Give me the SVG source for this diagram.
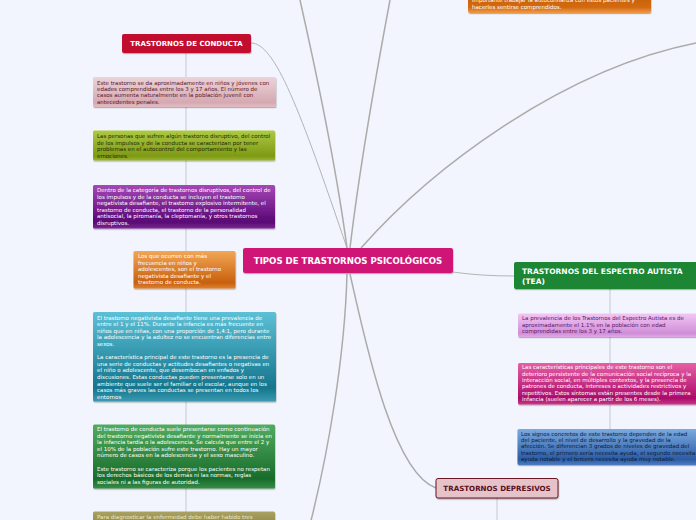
<svg xmlns="http://www.w3.org/2000/svg" width="696" height="520" viewBox="0 0 696 520">
<defs>
<style>
.bg{fill:#F2F5FD}
.con{fill:none;stroke:#ABABAB;stroke-width:1.5}
.con2{fill:none;stroke:#B4B4B4;stroke-width:1}
.stem{fill:none;stroke:#D6DAE3;stroke-width:1.6}
.t{font-family:"DejaVu Sans",Verdana,sans-serif;font-size:5.5px}
.w{fill:#FFFFFF}
.h{font-family:"DejaVu Sans",Verdana,sans-serif;font-weight:bold}
</style>
<filter id="sh" x="-5%" y="-10%" width="110%" height="130%">
<feDropShadow dx="0.5" dy="1.2" stdDeviation="0.7" flood-color="#000" flood-opacity="0.28"/>
</filter>
<linearGradient id="gPink" x1="0" y1="0" x2="0" y2="1"><stop offset="0" stop-color="#ECD3D8"/><stop offset="0.85" stop-color="#D5A9B1"/><stop offset="1" stop-color="#E2BDC3"/></linearGradient>
<linearGradient id="gOlive" x1="0" y1="0" x2="0" y2="1"><stop offset="0" stop-color="#AECA42"/><stop offset="0.85" stop-color="#7E9A16"/><stop offset="1" stop-color="#98B430"/></linearGradient>
<linearGradient id="gPurple" x1="0" y1="0" x2="0" y2="1"><stop offset="0" stop-color="#A548B6"/><stop offset="0.85" stop-color="#5A0676"/><stop offset="1" stop-color="#7A2A90"/></linearGradient>
<linearGradient id="gOrange" x1="0" y1="0" x2="0" y2="1"><stop offset="0" stop-color="#F2A656"/><stop offset="0.85" stop-color="#C8600E"/><stop offset="1" stop-color="#E08232"/></linearGradient>
<linearGradient id="gTeal" x1="0" y1="0" x2="0" y2="1"><stop offset="0" stop-color="#5CC0D6"/><stop offset="0.85" stop-color="#13768E"/><stop offset="1" stop-color="#3A9AB0"/></linearGradient>
<linearGradient id="gGreen" x1="0" y1="0" x2="0" y2="1"><stop offset="0" stop-color="#52AC60"/><stop offset="0.85" stop-color="#186C2A"/><stop offset="1" stop-color="#3A8C48"/></linearGradient>
<linearGradient id="gKhaki" x1="0" y1="0" x2="0" y2="1"><stop offset="0" stop-color="#AAA262"/><stop offset="1" stop-color="#8E8644"/></linearGradient>
<linearGradient id="gTopOr" x1="0" y1="0" x2="0" y2="1"><stop offset="0" stop-color="#C85E08"/><stop offset="0.7" stop-color="#D26A12"/><stop offset="1" stop-color="#F09A48"/></linearGradient>
<linearGradient id="gViolet" x1="0" y1="0" x2="0" y2="1"><stop offset="0" stop-color="#F2C6F4"/><stop offset="0.85" stop-color="#D08ED8"/><stop offset="1" stop-color="#E0AAE6"/></linearGradient>
<linearGradient id="gMag" x1="0" y1="0" x2="0" y2="1"><stop offset="0" stop-color="#E660A6"/><stop offset="0.85" stop-color="#AC0C6A"/><stop offset="1" stop-color="#C83A88"/></linearGradient>
<linearGradient id="gBlue" x1="0" y1="0" x2="0" y2="1"><stop offset="0" stop-color="#7CAAE0"/><stop offset="0.85" stop-color="#2A5CA4"/><stop offset="1" stop-color="#4E7CC0"/></linearGradient>
</defs>
<rect class="bg" x="0" y="0" width="696" height="520"/>

<g id="connectors">
<path class="stem" d="M186,53 V520"/>
<path class="stem" d="M610,289 V430"/>
<path class="stem" d="M497,498 V520"/>
<path class="con2" d="M251,43 C275,43 300,110 347,248"/>
<path class="con" d="M347,248 C338,180 318,80 300,0"/>
<path class="con" d="M350,248 C358,180 375,80 390,0"/>
<path class="con" d="M361,248 C430,170 560,70 696,43"/>
<path class="con2" d="M453,272 Q480,276 514,276"/>
<path class="con" d="M350,274 C365,340 392,472 436,488"/>
<path class="con" d="M347,274 C345,350 330,450 306,540"/>
</g>

<g id="top-orange">
<rect x="468" y="-6" width="183" height="19" rx="2" fill="url(#gTopOr)" filter="url(#sh)"/>
<text class="t w" x="472"><tspan x="472" y="2.4">importante trabajar la autoconfianza con estos pacientes y</tspan><tspan x="472" y="9">hacerles sentirse comprendidos.</tspan></text>
</g>

<g id="conducta">
<rect x="122" y="34" width="129" height="19" rx="2" fill="#C1102E" filter="url(#sh)"/>
<text class="h w" x="186.5" y="46.3" font-size="7" text-anchor="middle">TRASTORNOS DE CONDUCTA</text>
</g>

<g id="conducta-1">
<rect x="93" y="77" width="183" height="30" rx="1.5" fill="url(#gPink)" filter="url(#sh)"/>
<text class="t" fill="#5A1424"><tspan x="97" y="85">Este trastorno se da aproximadamente en niños y jóvenes con</tspan><tspan x="97" y="91.2">edades comprendidas entre los 3 y 17 años. El número de</tspan><tspan x="97" y="97.4">casos aumenta naturalmente en la población juvenil con</tspan><tspan x="97" y="103.6">antecedentes penales.</tspan></text>
</g>

<g id="conducta-2">
<rect x="93" y="130.5" width="182" height="30" rx="1.5" fill="url(#gOlive)" filter="url(#sh)"/>
<text class="t" fill="#1E2806"><tspan x="97" y="138.3">Las personas que sufren algún trastorno disruptivo, del control</tspan><tspan x="97" y="144.7">de los impulsos y de la conducta se caracterizan por tener</tspan><tspan x="97" y="151.1">problemas en el autocontrol del comportamiento y las</tspan><tspan x="97" y="157.5">emociones.</tspan></text>
</g>

<g id="conducta-3">
<rect x="93" y="185" width="182" height="43.5" rx="1.5" fill="url(#gPurple)" filter="url(#sh)"/>
<text class="t w"><tspan x="97" y="192.3">Dentro de la categoría de trastornos disruptivos, del control de</tspan><tspan x="97" y="198.8">los impulsos y de la conducta se incluyen el trastorno</tspan><tspan x="97" y="205.3">negativista desafiante, el trastorno explosivo intermitente, el</tspan><tspan x="97" y="211.8">trastorno de conducta, el trastorno de la personalidad</tspan><tspan x="97" y="218.3">antisocial, la piromanía, la cleptomanía, y otros trastornos</tspan><tspan x="97" y="224.8">disruptivos.</tspan></text>
</g>

<g id="conducta-4">
<rect x="133.5" y="251" width="102" height="37.5" rx="1.5" fill="url(#gOrange)" filter="url(#sh)"/>
<text class="t w"><tspan x="138" y="258.3">Los que ocurren con más</tspan><tspan x="138" y="264.8">frecuencia en niños y</tspan><tspan x="138" y="271.3">adolescentes, son el trastorno</tspan><tspan x="138" y="277.8">negativista desafiante y el</tspan><tspan x="138" y="284.3">trastorno de conducta.</tspan></text>
</g>

<g id="conducta-5">
<rect x="93" y="312" width="183" height="89.5" rx="1.5" fill="url(#gTeal)" filter="url(#sh)"/>
<text class="t w"><tspan x="97" y="319.6">El trastorno negativista desafiante tiene una prevalencia de</tspan><tspan x="97" y="326.2">entre el 1 y el 11%. Durante la infancia es más frecuente en</tspan><tspan x="97" y="332.8">niños que en niñas, con una proporción de 1,4:1, pero durante</tspan><tspan x="97" y="339.4">la adolescencia y la adultez no se encuentran diferencias entre</tspan><tspan x="97" y="346">sexos.</tspan><tspan x="97" y="359.2">La característica principal de este trastorno es la presencia de</tspan><tspan x="97" y="365.8">una serie de conductas y actitudes desafiantes o negativas en</tspan><tspan x="97" y="372.4">el niño o adolescente, que desembocan en enfados y</tspan><tspan x="97" y="379">discusiones. Estas conductas pueden presentarse solo en un</tspan><tspan x="97" y="385.6">ambiente que suele ser el familiar o el escolar, aunque en los</tspan><tspan x="97" y="392.2">casos más graves las conductas se presentan en todos los</tspan><tspan x="97" y="398.8">entornos</tspan></text>
</g>

<g id="conducta-6">
<rect x="93" y="424.5" width="182" height="64" rx="1.5" fill="url(#gGreen)" filter="url(#sh)"/>
<text class="t w"><tspan x="97" y="431">El trastorno de conducta suele presentarse como continuación</tspan><tspan x="97" y="437.6">del trastorno negativista desafiante y normalmente se inicia en</tspan><tspan x="97" y="444.2">la infancia tardía o la adolescencia. Se calcula que entre el 2 y</tspan><tspan x="97" y="450.8">el 10% de la población sufre este trastorno. Hay un mayor</tspan><tspan x="97" y="457.4">número de casos en la adolescencia y el sexo masculino.</tspan><tspan x="97" y="470.6">Este trastorno se caracteriza porque los pacientes no respetan</tspan><tspan x="97" y="477.2">los derechos básicos de los demás ni las normas, reglas</tspan><tspan x="97" y="483.8">sociales ni a las figuras de autoridad.</tspan></text>
</g>

<g id="conducta-7">
<rect x="93" y="511.5" width="182" height="14" rx="1.5" fill="url(#gKhaki)" filter="url(#sh)"/>
<text class="t" fill="#EEE8C8"><tspan x="97" y="519">Para diagnosticar la enfermedad debe haber habido tres</tspan></text>
</g>

<g id="center">
<rect x="243" y="248" width="210" height="25" rx="2" fill="#CF1877" filter="url(#sh)"/>
<text class="h w" x="348" y="264" font-size="8.6" text-anchor="middle">TIPOS DE TRASTORNOS PSICOLÓGICOS</text>
</g>

<g id="tea">
<rect x="514" y="262" width="190" height="27" rx="2" fill="#1A8636" filter="url(#sh)"/>
<text class="h w" font-size="7.5"><tspan x="522" y="274.2">TRASTORNOS DEL ESPECTRO AUTISTA</tspan><tspan x="522" y="283.8">(TEA)</tspan></text>
</g>

<g id="tea-1">
<rect x="518" y="313.5" width="186" height="23.5" rx="1.5" fill="url(#gViolet)" filter="url(#sh)"/>
<text class="t" fill="#5A1668"><tspan x="522" y="320.2">La prevalencia de los Trastornos del Espectro Autista es de</tspan><tspan x="522" y="326.7">aproximadamente el 1.1% en la población con edad</tspan><tspan x="522" y="333.2">comprendidas entre los 3 y 17 años.</tspan></text>
</g>

<g id="tea-2">
<rect x="518" y="363" width="186" height="41.5" rx="1.5" fill="url(#gMag)" filter="url(#sh)"/>
<text class="t w"><tspan x="522" y="369.3">Las características principales de este trastorno son el</tspan><tspan x="522" y="375.6">deterioro persistente de la comunicación social recíproca y la</tspan><tspan x="522" y="381.9">interacción social, en múltiples contextos, y la presencia de</tspan><tspan x="522" y="388.2">patrones de conducta, intereses o actividades restrictivos y</tspan><tspan x="522" y="394.5">repetitivos. Estos síntomas están presentes desde la primera</tspan><tspan x="522" y="400.8">infancia (suelen aparecer a partir de los 6 meses).</tspan></text>
</g>

<g id="tea-3">
<rect x="517.5" y="429" width="186" height="36" rx="1.5" fill="url(#gBlue)" filter="url(#sh)"/>
<text class="t" fill="#0C1A3C"><tspan x="521" y="435.6">Los signos concretos de este trastorno dependen de la edad</tspan><tspan x="521" y="442">del paciente, el nivel de desarrollo y la gravedad de la</tspan><tspan x="521" y="448.4">afección. Se diferencian 3 grados de niveles de gravedad del</tspan><tspan x="521" y="454.8">trastorno, el primero sería necesita ayuda, el segundo necesita</tspan><tspan x="521" y="461.2">ayuda notable y el tercero necesita ayuda muy notable.</tspan></text>
</g>

<g id="depresivos">
<rect x="436" y="478.5" width="122" height="19.5" rx="2" fill="#E6C3C8" stroke="#6A1424" stroke-width="1" filter="url(#sh)"/>
<text class="h" x="497" y="491" font-size="7.1" fill="#5A0E1E" text-anchor="middle">TRASTORNOS DEPRESIVOS</text>
</g>
</svg>
